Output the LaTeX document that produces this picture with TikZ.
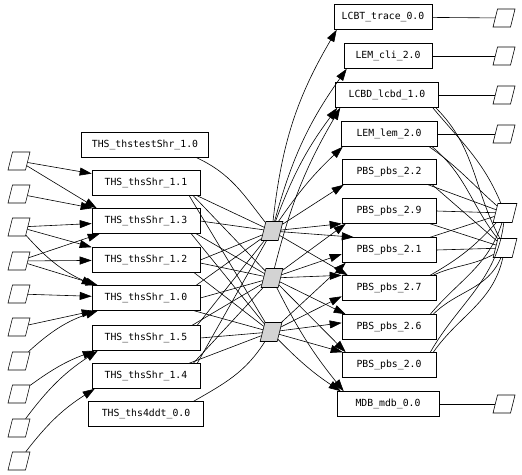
\documentclass[tikz,border=0pt]{standalone}
\usepackage{fontspec}
\setmonofont{DejaVu Sans Mono}
\usepackage{tikz}
\usetikzlibrary{arrows.meta}
\definecolor{hubfill}{HTML}{D3D3D3}

\tikzset{
  pkg/.style={draw, rectangle, minimum height=25pt, inner sep=0pt, font=\ttfamily\fontsize{9.8}{11}\selectfont},
  slot/.style={draw, rectangle, minimum width=17.5pt, minimum height=18pt, inner sep=0pt, xslant=0.25, transform shape},
  hub/.style={slot, fill=hubfill, minimum width=17pt, minimum height=19pt},
  dep/.style={-{Triangle[length=12pt,width=8pt]}},
}

\begin{document}
\begin{tikzpicture}[x=1pt, y=-1pt, line width=0.6pt]
  \useasboundingbox (0,0) rectangle (522,474);

  % Inputs on the left
  \foreach \i/\y in {1/161,2/194,3/227,4/261,5/294,6/327,7/361,8/394,9/428,10/461}
    \node[slot] (in\i) at (19,\y) {};

  % Left packages
  \node[pkg, minimum width=127pt] (thstest) at (145,145) {THS\_thstestShr\_1.0};
  \node[pkg, minimum width=108pt] (shr11) at (146,183) {THS\_thsShr\_1.1};
  \node[pkg, minimum width=108pt] (shr13) at (146,221) {THS\_thsShr\_1.3};
  \node[pkg, minimum width=108pt] (shr12) at (146,260) {THS\_thsShr\_1.2};
  \node[pkg, minimum width=108pt] (shr10) at (146,298) {THS\_thsShr\_1.0};
  \node[pkg, minimum width=108pt] (shr15) at (146,338) {THS\_thsShr\_1.5};
  \node[pkg, minimum width=108pt] (shr14) at (146,376) {THS\_thsShr\_1.4};
  \node[pkg, minimum width=115pt] (ddt) at (146,414) {THS\_ths4ddt\_0.0};

  % Hubs
  \node[hub] (g1) at (272,231) {};
  \node[hub] (g2) at (272,278) {};
  \node[hub] (g3) at (271,332) {};

  % Right packages
  \node[pkg, minimum width=98pt] (trace) at (383,17) {LCBT\_trace\_0.0};
  \node[pkg, minimum width=88pt] (cli) at (388,56) {LEM\_cli\_2.0};
  \node[pkg, minimum width=103pt] (lcbd) at (387,95) {LCBD\_lcbd\_1.0};
  \node[pkg, minimum width=96pt] (lem) at (389,134) {LEM\_lem\_2.0};
  \node[pkg, minimum width=94pt] (pbs22) at (389,172) {PBS\_pbs\_2.2};
  \node[pkg, minimum width=94pt] (pbs29) at (389,211) {PBS\_pbs\_2.9};
  \node[pkg, minimum width=94pt] (pbs21) at (389,250) {PBS\_pbs\_2.1};
  \node[pkg, minimum width=94pt] (pbs27) at (389,288) {PBS\_pbs\_2.7};
  \node[pkg, minimum width=94pt] (pbs26) at (389,327) {PBS\_pbs\_2.6};
  \node[pkg, minimum width=94pt] (pbs20) at (389,365) {PBS\_pbs\_2.0};
  \node[pkg, minimum width=102pt] (mdb) at (388,404) {MDB\_mdb\_0.0};

  % Outputs on the right
  \node[slot] (otrace) at (504,18) {};
  \node[slot] (ocli) at (504,56) {};
  \node[slot] (olcbd) at (504,95) {};
  \node[slot] (olem) at (504,134) {};
  \node[slot, minimum width=19pt, minimum height=19pt] (oa) at (505,213) {};
  \node[slot, minimum width=19pt, minimum height=19pt] (ob) at (505,248) {};
  \node[slot] (omdb) at (504,404) {};

  % Inputs into left packages
  \draw[dep] (in1) -- (shr11);
  \draw[dep] (in1) -- ([xshift=5pt]shr13.north west);
  \draw[dep] (in2) -- ([xshift=1pt]shr13.north west);
  \draw[dep] (in3) -- (shr13);
  \draw[dep] (in3) -- (shr12.north west);
  \draw[dep] (in3) to[bend right=12] ([xshift=2pt]shr10.north west);
  \draw[dep] (in4) -- ([xshift=8pt]shr13.south west);
  \draw[dep] (in4) -- (shr12);
  \draw[dep] (in4) -- ([xshift=6pt]shr10.north west);
  \draw[dep] (in5) -- (shr10);
  \draw[dep] (in6) -- ([xshift=2pt]shr10.south west);
  \draw[dep] (in7) to[bend left=12] ([xshift=6pt]shr10.south west);
  \draw[dep] (in8) to[bend left=8] ([xshift=3pt]shr15.south west);
  \draw[dep] (in9) to[bend left=10] ([xshift=6pt]shr15.south west);
  \draw[dep] (in10) to[bend left=10] ([xshift=3pt]shr14.south west);

  % Left packages into hubs
  \draw ([xshift=-12pt]thstest.south east) to[out=-25, in=130] (g1);
  \draw ([xshift=-3pt]shr11.south east) -- (g1);
  \draw ([xshift=-7pt]shr11.south east) -- (g2);
  \draw ([xshift=-11pt]shr11.south east) -- (g3);
  \draw (shr13.east) -- (g1);
  \draw ([xshift=-4pt]shr13.south east) -- (g2);
  \draw ([xshift=-9pt]shr13.south east) -- (g3);
  \draw (shr12.east) -- (g1);
  \draw ([yshift=-3pt]shr12.east) -- (g2);
  \draw ([xshift=-6pt]shr12.south east) -- (g3);
  \draw ([xshift=-4pt]shr10.north east) -- (g1);
  \draw (shr10.east) -- (g2);
  \draw ([xshift=-6pt]shr10.south east) -- (g3);
  \draw ([xshift=-3pt]shr15.north east) -- (g1);
  \draw ([xshift=-8pt]shr15.north east) -- (g2);
  \draw (shr15.east) -- (g3);
  \draw ([xshift=-3pt]shr14.north east) -- (g1);
  \draw ([xshift=-7pt]shr14.north east) -- (g2);
  \draw ([xshift=-11pt]shr14.north east) -- (g3);
  \draw ([xshift=-10pt]ddt.north east) to[out=30, in=-120] (g3);

  % Hubs into right packages
  \draw[dep] (g1) to[bend left=12] ([xshift=3pt]trace.south west);
  \draw[dep] (g1) to[bend left=10] ([xshift=3pt]cli.south west);
  \draw[dep] (g1) to[bend left=8] ([xshift=2pt]lcbd.south west);
  \draw[dep] (g2) to[bend left=8] ([xshift=5pt]lcbd.south west);
  \draw[dep] (g1) to[bend left=6] ([xshift=2pt]lem.south west);
  \draw[dep] (g1) -- ([xshift=2pt]pbs22.south west);
  \draw[dep] (g1) -- (pbs29.195);
  \draw[dep] (g1) -- (pbs21.160);
  \draw[dep] (g1) -- ([xshift=6pt]pbs27.north west);
  \draw[dep] (g2) -- ([xshift=4pt]pbs29.south west);
  \draw[dep] (g2) -- (pbs21.185);
  \draw[dep] (g2) -- (pbs27.165);
  \draw[dep] (g2) -- ([xshift=4pt]pbs26.north west);
  \draw[dep] (g2) -- ([xshift=4pt]pbs20.north west);
  \draw[dep] (g3) -- ([xshift=4pt]pbs21.south west);
  \draw[dep] (g3) -- (pbs27.190);
  \draw[dep] (g3) -- (pbs26.175);
  \draw[dep] (g3) -- ([xshift=1pt]pbs20.north west);
  \draw[dep] (g3) to[bend right=6] ([xshift=4pt]mdb.north west);
  \draw[dep] (g2) to[bend right=6] ([xshift=7pt]mdb.north west);

  % Right packages into outputs
  \draw (trace) -- (otrace);
  \draw (cli) -- (ocli);
  \draw (lcbd) -- (olcbd);
  \draw (lem) -- (olem);
  \draw (mdb) -- (omdb);
  \draw ([xshift=-6pt]lcbd.south east) to[out=-50, in=115] (oa);
  \draw ([xshift=-3pt]lcbd.south east) to[out=-45, in=120] (ob);
  \draw ([xshift=-8pt]lem.south east) to[out=-35, in=140] (oa);
  \draw ([xshift=-5pt]lem.south east) to[out=-40, in=130] (ob);
  \draw ([xshift=-8pt]pbs22.south east) -- (oa);
  \draw ([xshift=-4pt]pbs22.south east) -- (ob);
  \draw (pbs29.east) -- (oa);
  \draw ([xshift=-6pt]pbs29.south east) -- (ob);
  \draw ([xshift=-6pt]pbs21.north east) -- (oa);
  \draw (pbs21.east) -- (ob);
  \draw ([xshift=-6pt]pbs27.north east) to[out=30, in=-130] (oa);
  \draw ([xshift=-3pt]pbs27.north east) to[out=25, in=-150] (ob);
  \draw ([xshift=-6pt]pbs26.north east) to[out=50, in=-105] (oa);
  \draw ([xshift=-3pt]pbs26.north east) to[out=45, in=-110] (ob);
  \draw ([xshift=-6pt]pbs20.north east) to[out=60, in=-95] (oa);
  \draw ([xshift=-3pt]pbs20.north east) to[out=55, in=-100] (ob);
\end{tikzpicture}
\end{document}
